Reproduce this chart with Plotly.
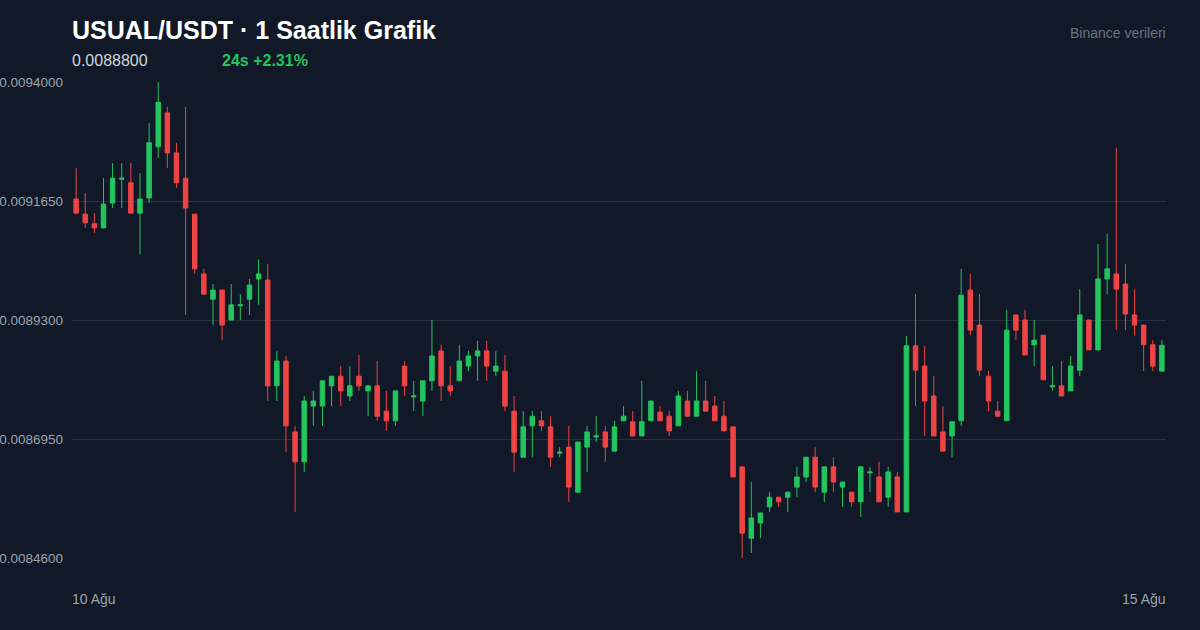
import plotly.graph_objects as go

# prices in units of 1e-7 USDT
open_e7 = [91690,91390,91200,91120,91610,92080,92010,91410,91710,92720,93390,92600,92100,91390,90210,89710,89890,89300,89580,89710,
           90110,90090,88000,88490,87090,86500,87600,87600,88000,88190,87800,88190,87900,88000,87500,87310,88390,87780,87700,88100,
           88690,88000,88100,88390,88590,88690,88290,88290,87500,86590,87210,87310,87190,86670,86790,85900,86790,86990,87090,86710,
           87310,87290,87010,87310,87480,87400,87210,87700,87400,87700,87600,87400,87190,86400,84990,85290,85610,85800,85800,86000,
           86200,86590,85900,86400,86000,85900,85710,86280,86200,85800,86200,85510,88790,88390,87800,87090,87010,87310,89890,89200,
           88190,87500,87310,89400,89300,88810,89000,87980,88000,87900,88310,89300,88710,90110,90210,90010,89400,89200,88810,88290]
high_e7 = [92300,91810,91410,92100,92400,92400,92400,92200,93190,94000,93510,92800,93510,91390,90310,90010,89890,90010,89810,90110,
           90500,90410,88690,88590,87210,87800,87900,88100,88190,88390,88390,88610,88000,88490,87900,87900,88490,88100,88100,89300,
           88810,88390,88810,88690,88890,88890,88690,88610,87800,87500,87500,87500,87400,86790,87210,86890,87210,87400,87210,87310,
           87600,87500,88100,87700,87600,87500,87900,87900,88290,88100,87800,87700,87190,86400,86100,85490,85900,85800,85900,86400,
           86590,86790,86400,86590,86100,85900,86400,86400,86500,86400,86300,88980,89810,88790,88190,87600,87290,90310,90210,89810,
           88290,87700,89500,89400,89500,89300,89000,88390,88490,88590,89910,89300,90800,91000,92700,90410,89910,89200,88900,88900]
low_e7 = [91410,91120,91020,91120,91510,91510,91410,90600,91610,92500,92300,91910,89400,90210,89810,89200,88900,89300,89300,89400,
          89600,87700,87700,86690,85510,86300,87210,87210,87600,87600,87700,87900,87400,87310,87110,87210,87800,87500,87400,87900,
          87700,87800,88100,88290,88100,88100,88190,87500,86300,86590,86590,87110,86400,86590,85710,85900,86300,86890,86500,86710,
          87310,87010,87010,87310,87310,87010,87210,87400,87400,87500,87310,87110,86200,84600,84700,84990,85510,85610,85510,85800,
          86100,85900,85710,85900,85610,85610,85410,85900,85710,85610,85510,85510,87600,87010,87010,86710,86590,87210,89000,88190,
          87500,87400,87310,88900,88610,88390,88120,87900,87800,87900,88190,88710,88710,89810,89100,89100,89000,88290,88290,88290]
close_e7 = [91410,91220,91120,91590,92100,92100,91410,91690,92800,93600,92600,92010,91510,90310,89810,89890,89200,89600,89600,89990,
            90210,88000,88490,87210,86500,87700,87700,88100,88190,87900,88000,88000,88000,87400,87310,87900,88000,87800,88100,88590,
            88000,87900,88490,88590,88690,88390,88390,87600,86690,87190,87400,87210,86590,86690,86000,86890,87090,87010,86790,87190,
            87400,87010,87290,87700,87310,87110,87800,87400,87700,87500,87310,87110,86200,85090,85390,85490,85800,85710,85900,86200,
            86590,86000,86400,86100,86100,85710,86400,86300,85710,86300,85510,88790,88310,87700,87010,86710,87290,89790,89100,88310,
            87700,87400,89100,89100,88610,88900,88120,88000,87800,88390,89400,88710,90110,90310,89910,89420,89200,88810,88390,88800]

y_ticks = [0.0094, 0.009165, 0.00893, 0.008695, 0.00846]
x_labels = ["10 Ağu", "15 Ağu"]
title_text = "USUAL/USDT · 1 Saatlik Grafik"
price_text = "0.0088800"
change_text = "24s +2.31%"
source_text = "Binance verileri"

scale = 1e-7
o = [v * scale for v in open_e7]
h = [v * scale for v in high_e7]
l = [v * scale for v in low_e7]
c = [v * scale for v in close_e7]
x = list(range(len(o)))

BG = "#111827"
fig = go.Figure(go.Candlestick(
    x=x, open=o, high=h, low=l, close=c,
    increasing=dict(line=dict(color="#22c55e", width=1), fillcolor="#22c55e"),
    decreasing=dict(line=dict(color="#ef4444", width=1), fillcolor="#ef4444"),
    whiskerwidth=0, showlegend=False, hoverinfo="skip",
))
FONT = "Liberation Sans, Arial, sans-serif"
fig.update_layout(
    width=1200, height=630, paper_bgcolor=BG, plot_bgcolor=BG,
    margin=dict(l=72, r=34, t=82, b=72, autoexpand=False),
    font=dict(family=FONT, color="#9ca3af", size=13),
    xaxis=dict(range=[-0.45, len(o) - 0.55], showgrid=False, zeroline=False, automargin=False,
               showticklabels=False, rangeslider=dict(visible=False), fixedrange=True),
    yaxis=dict(range=[y_ticks[-1], y_ticks[0]], tickvals=y_ticks, tickformat=".7f", automargin=False,
               gridcolor="#27303f", gridwidth=1, zeroline=False, showline=False,
               tickfont=dict(size=13.5, color="#9ca3af"), ticks="", ticklabelstandoff=8),
)
ann = [
    dict(text=f"<b>{title_text}</b>", x=70, y=30, font=dict(size=25, color="#ffffff")),
    dict(text=price_text, x=70, y=61, font=dict(size=16, color="#d1d5db")),
    dict(text=f"<b>{change_text}</b>", x=220, y=61, font=dict(size=16, color="#22c55e")),
    dict(text=x_labels[0], x=70, y=599, font=dict(size=14, color="#9ca3af")),
]
for a in ann:
    fig.add_annotation(text=a["text"], xref="paper", yref="paper",
                       x=(a["x"] - 72) / 1094, y=(558 - a["y"]) / 476,
                       xanchor="left", yanchor="middle", showarrow=False, font=a["font"])
for txt, yy, sz in [(source_text, 33, 14), (x_labels[1], 599, 14)]:
    fig.add_annotation(text=txt, xref="paper", yref="paper", x=1.002, y=(558 - yy) / 476,
                       xanchor="right", yanchor="middle", showarrow=False,
                       font=dict(size=sz, color="#6b7280" if txt == source_text else "#9ca3af"))
fig.write_html("out.html", config={"displayModeBar": False},
               post_script="document.body.style.margin='0';document.body.style.background='#111827';")
